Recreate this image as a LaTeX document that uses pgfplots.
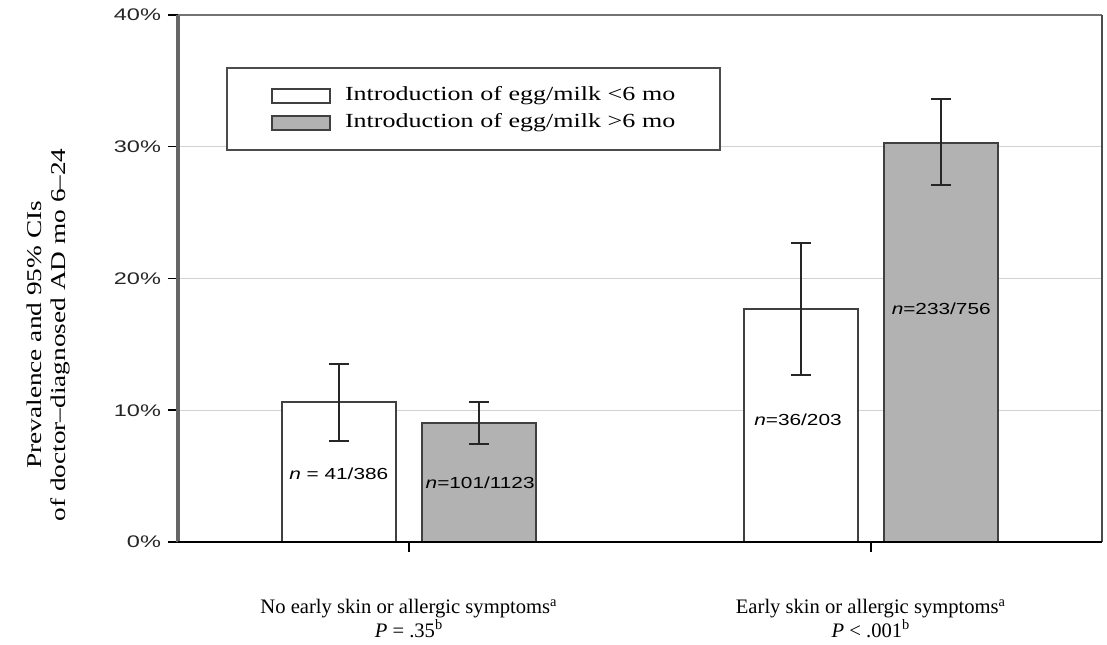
\documentclass[border=0pt]{standalone}
\usepackage{pgfplots}
\pgfplotsset{compat=1.18}
\usepackage{pgfplotstable}
\usepackage{fontspec}
\setmainfont{Liberation Serif}
\newfontfamily\serifw[FakeStretch=1.3]{Liberation Serif}
\newfontfamily\sansw[FakeStretch=1.4]{Liberation Sans}
\newfontfamily\sansn[FakeStretch=1.3]{Liberation Sans}

\pgfplotstableread{
x y ep em
0.5 10.6 2.9 2.9
1.5 17.7 5.0 5.0
}\lessSix
\pgfplotstableread{
x y ep em
0.5 9.0 1.6 1.6
1.5 30.3 3.3 3.2
}\moreSix

\begin{document}
\begin{tikzpicture}
\begin{axis}[
  scale only axis,
  width=462pt, height=263.5pt,
  xmin=0, xmax=2, ymin=0, ymax=40,
  ybar,
  axis line style={draw=none},
  clip=false,
  ytick={0,10,20,30,40},
  yticklabels={0\%,10\%,20\%,30\%,40\%},
  yticklabel style={font=\sansw\fontsize{8.4}{10}\selectfont, text=black!85},
  xtick={0.5,1.5},
  xticklabels={{No early skin or allergic symptoms\textsuperscript{a}\\\textit{P} = .35\textsuperscript{b}},{Early skin or allergic symptoms\textsuperscript{a}\\\textit{P} < .001\textsuperscript{b}}},
  xticklabel style={align=center, font=\fontsize{10.3}{9.5}\selectfont, anchor=north, yshift=-20pt},
  xtick pos=bottom, ytick pos=left,
  tick align=outside,
  major tick length=5pt,
  tick style={black, line width=0.75pt},
  ymajorgrids,
  grid style={gray!35, line width=0.6pt},
  every axis y label/.style={at={(rel axis cs:-0.1402,0.393)}, rotate=90, anchor=center, align=center, font=\serifw\fontsize{10.5}{12}\selectfont},
  ylabel={Prevalence and 95\% CIs\\of doctor–diagnosed AD mo 6–24},
  legend style={at={(0.052,0.901)}, anchor=north west, draw=black!70, line width=1pt,
    inner xsep=11.5pt, inner ysep=8pt, row sep=2pt,
    font=\serifw\fontsize{10}{12}\selectfont,
    nodes={inner sep=1pt, text height=7pt, text depth=2.5pt, text width=175pt, align=left},
    /tikz/every odd column/.append style={column sep=6pt}},
  legend cell align=left,
]
\addplot[fill=white, draw=black!75, line width=1pt, bar width=0.247, bar shift=-0.152,
  legend image code/.code={\path[draw=none, fill=none] (0pt,-3.5pt) rectangle (40pt,3.5pt); \draw[fill=white, draw=black!75, line width=1pt] (11pt,-3.5pt) rectangle (40pt,3.5pt);},
  error bars/.cd, y dir=both, y explicit,
  error bar style={line width=1pt, black!85},
  error mark options={rotate=90, mark size=5pt, line width=1pt, black!85}]
  table[x=x, y=y, y error plus=ep, y error minus=em] {\lessSix};
\addlegendentry{Introduction of egg/milk <6 mo}
\addplot[fill=gray!60, draw=black!75, line width=1pt, bar width=0.247, bar shift=0.152,
  legend image code/.code={\path[draw=none, fill=none] (0pt,-3.5pt) rectangle (40pt,3.5pt); \draw[fill=gray!60, draw=black!75, line width=1pt] (11pt,-3.5pt) rectangle (40pt,3.5pt);},
  error bars/.cd, y dir=both, y explicit,
  error bar style={line width=1pt, black!85},
  error mark options={rotate=90, mark size=5pt, line width=1pt, black!85}]
  table[x=x, y=y, y error plus=ep, y error minus=em] {\moreSix};
\addlegendentry{Introduction of egg/milk >6 mo}

\node[font=\sansn\fontsize{8}{9.6}\selectfont] at (axis cs:0.348,5.2) {\textit{n} = 41/386};
\node[font=\sansn\fontsize{8}{9.6}\selectfont] at (axis cs:0.654,4.5) {\textit{n}=101/1123};
\node[font=\sansn\fontsize{8}{9.6}\selectfont] at (axis cs:1.342,9.3) {\textit{n}=36/203};
\node[font=\sansn\fontsize{8}{9.6}\selectfont] at (axis cs:1.652,17.7) {\textit{n}=233/756};

\draw[black!60, line width=1.75pt] (rel axis cs:0,0) -- (rel axis cs:0,1);
\draw[black!55, line width=1pt] (rel axis cs:0,1) -- (rel axis cs:1,1);
\draw[black!70, line width=1.25pt] (rel axis cs:1,0) -- (rel axis cs:1,1);
\draw[black, line width=1pt] (rel axis cs:0,0) -- (rel axis cs:1,0);
\coordinate (SW) at (rel axis cs:0,0);
\coordinate (NE) at (rel axis cs:1,1);
\end{axis}
\path ([shift={(-89pt,-47pt)}]SW) rectangle ([shift={(2.5pt,7.5pt)}]NE);
\end{tikzpicture}
\end{document}
